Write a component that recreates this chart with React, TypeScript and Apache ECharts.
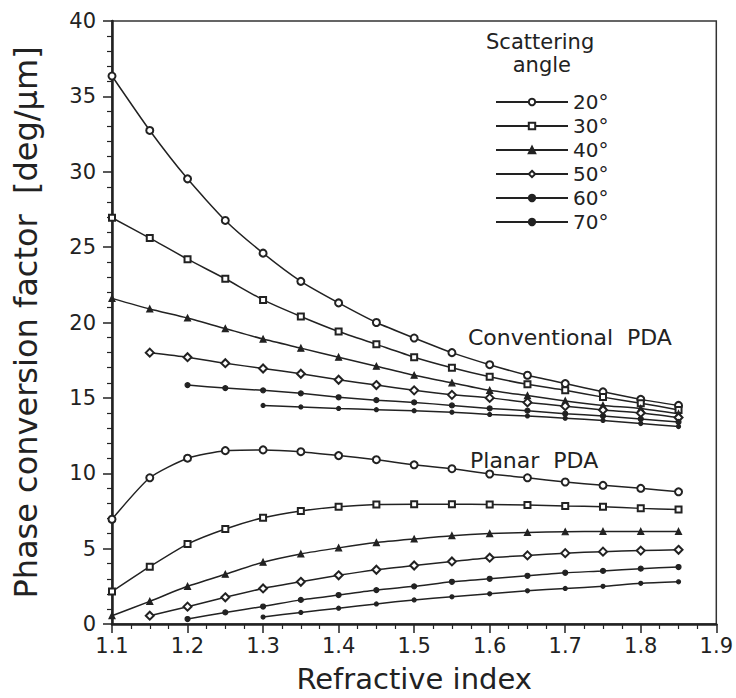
import React, { useEffect, useRef } from "react";
import * as echarts from "echarts";

// Refractive index sample positions
const refractiveIndex = [1.1, 1.15, 1.2, 1.25, 1.3, 1.35, 1.4, 1.45, 1.5, 1.55, 1.6, 1.65, 1.7, 1.75, 1.8, 1.85];

const angleNames = ["20°", "30°", "40°", "50°", "60°", "70°"];

// Conventional PDA
const conv20 = [36.35, 32.74, 29.53, 26.77, 24.6, 22.73, 21.3, 20.0, 18.97, 18.0, 17.2, 16.5, 15.95, 15.4, 14.9, 14.5];
const conv30 = [26.95, 25.6, 24.2, 22.9, 21.5, 20.4, 19.4, 18.55, 17.7, 17.0, 16.4, 15.9, 15.5, 15.05, 14.65, 14.2];
const conv40 = [21.6, 20.9, 20.3, 19.6, 18.9, 18.3, 17.7, 17.1, 16.5, 16.0, 15.5, 15.15, 14.8, 14.5, 14.3, 13.95];
const conv50 = [null, 18.0, 17.7, 17.3, 16.95, 16.6, 16.2, 15.85, 15.5, 15.2, 15.0, 14.7, 14.45, 14.2, 14.0, 13.7];
const conv60 = [null, null, 15.85, 15.65, 15.5, 15.3, 15.04, 14.85, 14.7, 14.5, 14.3, 14.15, 13.95, 13.8, 13.6, 13.4];
const conv70 = [null, null, null, null, 14.5, 14.4, 14.3, 14.22, 14.15, 14.05, 13.9, 13.8, 13.65, 13.5, 13.3, 13.1];

// Planar PDA
const plan20 = [6.95, 9.7, 11.0, 11.5, 11.55, 11.43, 11.17, 10.9, 10.56, 10.3, 9.95, 9.7, 9.42, 9.2, 9.0, 8.77];
const plan30 = [2.15, 3.8, 5.3, 6.3, 7.05, 7.5, 7.78, 7.93, 7.95, 7.95, 7.93, 7.9, 7.83, 7.78, 7.67, 7.6];
const plan40 = [0.55, 1.5, 2.5, 3.3, 4.1, 4.65, 5.05, 5.4, 5.64, 5.86, 6.0, 6.07, 6.12, 6.14, 6.14, 6.14];
const plan50 = [null, 0.55, 1.15, 1.77, 2.36, 2.8, 3.23, 3.6, 3.88, 4.15, 4.4, 4.55, 4.7, 4.8, 4.87, 4.92];
const plan60 = [null, null, 0.33, 0.77, 1.16, 1.6, 1.92, 2.25, 2.5, 2.8, 3.0, 3.2, 3.4, 3.52, 3.67, 3.78];
const plan70 = [null, null, null, null, 0.46, 0.77, 1.05, 1.33, 1.6, 1.8, 2.0, 2.2, 2.36, 2.5, 2.7, 2.8];

const xTicks = [1.1, 1.2, 1.3, 1.4, 1.5, 1.6, 1.7, 1.8, 1.9];

const FONT = "DejaVu Sans";
const INK = "#222";

const markerStyles = [
  { symbol: "emptyCircle", symbolSize: 7 },
  { symbol: "emptyRect", symbolSize: 6 },
  { symbol: "triangle", symbolSize: 6 },
  { symbol: "emptyDiamond", symbolSize: 8 },
  { symbol: "circle", symbolSize: 5 },
  { symbol: "circle", symbolSize: 4 },
];

function toPairs(ys: (number | null)[]) {
  const out: [number, number][] = [];
  ys.forEach((y, i) => {
    if (y !== null) out.push([refractiveIndex[i], y]);
  });
  return out;
}

export default function App() {
  const ref = useRef<HTMLDivElement>(null);

  useEffect(() => {
    const chart = echarts.init(ref.current!, null, { renderer: "svg" });
    const convSets = [conv20, conv30, conv40, conv50, conv60, conv70];
    const planSets = [plan20, plan30, plan40, plan50, plan60, plan70];

    const makeSeries = (ys: (number | null)[], idx: number) => ({
      type: "line",
      name: angleNames[idx],
      data: toPairs(ys),
      smooth: 0.2,
      symbol: markerStyles[idx].symbol,
      symbolSize: markerStyles[idx].symbolSize,
      showAllSymbol: true,
      lineStyle: { color: INK, width: 1.5 },
      itemStyle: { color: INK, borderColor: INK, borderWidth: 1.2 },
      emphasis: { disabled: true },
    });

    const series = [
      ...convSets.map((ys, i) => makeSeries(ys, i)),
      ...planSets.map((ys, i) => makeSeries(ys, i)),
    ];

    const option: any = {
      animation: false,
      backgroundColor: "#fff",
      textStyle: { fontFamily: FONT },
      grid: {
        left: 112,
        top: 21,
        right: 14,
        bottom: 67,
        show: true,
        borderColor: "#333",
        borderWidth: 1.5,
      },
      legend: {
        data: angleNames,
        orient: "vertical",
        left: 490,
        top: 87,
        itemWidth: 72,
        itemHeight: 8,
        itemGap: 4,
        selectedMode: false,
        textStyle: { fontFamily: FONT, fontSize: 20, color: INK, lineHeight: 19 },
      },
      xAxis: {
        type: "value",
        min: 1.1,
        max: 1.9,
        interval: 0.1,
        name: "Refractive index",
        nameLocation: "middle",
        nameGap: 40,
        nameTextStyle: { fontFamily: FONT, fontSize: 29, color: INK },
        axisLine: { show: true, lineStyle: { color: INK, width: 2.5 } },
        axisTick: { show: true, inside: false, length: 9, lineStyle: { color: INK, width: 1.5 } },
        minorTick: { show: true, splitNumber: 4, length: 5, lineStyle: { color: INK, width: 1.2 } },
        splitLine: { show: false },
        axisLabel: {
          margin: 11,
          fontFamily: FONT,
          fontSize: 21,
          color: INK,
          formatter: (v: number) => {
            const t = xTicks.find((k) => Math.abs(k - v) < 1e-6);
            return t !== undefined ? t.toFixed(1) : "";
          },
        },
      },
      yAxis: {
        type: "value",
        min: 0,
        max: 40,
        interval: 5,
        name: "Phase conversion factor  [deg/μm]",
        nameLocation: "middle",
        nameGap: 70,
        nameRotate: 90,
        nameTextStyle: { fontFamily: FONT, fontSize: 32, color: INK },
        axisLine: { show: true, lineStyle: { color: INK, width: 2.5 } },
        axisTick: { show: true, inside: false, length: 9, lineStyle: { color: INK, width: 1.5 } },
        minorTick: { show: true, splitNumber: 5, length: 5, lineStyle: { color: INK, width: 1.2 } },
        splitLine: { show: false },
        axisLabel: { margin: 16, fontFamily: FONT, fontSize: 21, color: INK },
      },
      graphic: [
        {
          type: "text",
          left: 486,
          top: 30,
          style: {
            text: "Scattering\n    angle",
            fontFamily: FONT,
            fontSize: 21,
            lineHeight: 23,
            fill: INK,
          },
        },
        {
          type: "text",
          left: 468,
          top: 326,
          style: { text: "Conventional  PDA", fontFamily: FONT, fontSize: 22, fill: INK },
        },
        {
          type: "text",
          left: 470,
          top: 449,
          style: { text: "Planar  PDA", fontFamily: FONT, fontSize: 22, fill: INK },
        },
      ],
      series,
    };

    chart.setOption(option);
    return () => chart.dispose();
  }, []);

  return (
    <div
      ref={ref}
      style={{ position: "fixed", left: 0, top: 0, width: 736, height: 698, background: "#fff" }}
    />
  );
}
